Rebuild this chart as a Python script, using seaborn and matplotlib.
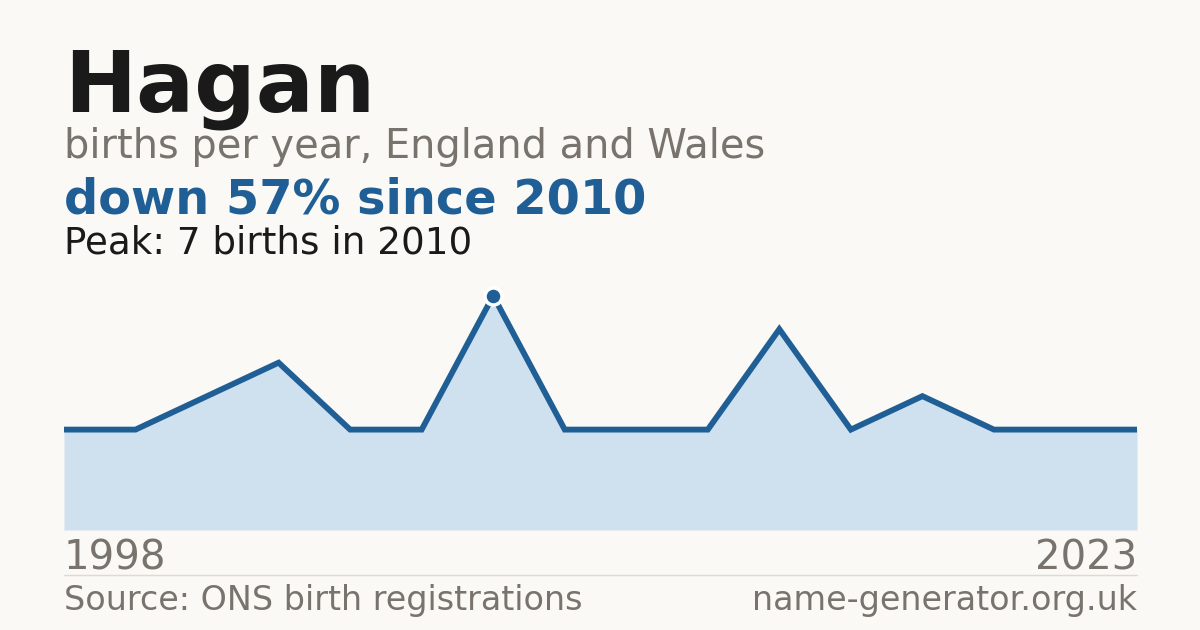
import matplotlib
matplotlib.use("Agg")
import matplotlib.pyplot as plt
import seaborn as sns
import pandas as pd
import numpy as np

years = [1998, 2000, 2002, 2004, 2006, 2008, 2010, 2011, 2013, 2014, 2016, 2017, 2018, 2020, 2022, 2023]
births = [3, 3, 4, 5, 3, 3, 7, 3, 3, 3, 6, 3, 4, 3, 3, 3]

title = "Hagan"
subtitle = "births per year, England and Wales"
headline = "down 57% since 2010"
peak_text = "Peak: 7 births in 2010"
source_text = "Source: ONS birth registrations"
site_text = "name-generator.org.uk"

BG = "#faf9f5"
BLUE = "#1f5f96"
FILL = "#cfe0ef"
GRAY = "#78736c"
DARK = "#1a1a1a"

sns.set_theme(style="white")
plt.rcParams['font.family'] = ['DejaVu Sans']

df = pd.DataFrame({"idx": np.arange(len(years)), "year": years, "births": births})

W, H = 1200, 630
fig = plt.figure(figsize=(12, 6.3), dpi=100, facecolor=BG)
left, right = 64, 1137
bottom, top = 530, 279
ax = fig.add_axes([left / W, 1 - bottom / H, (right - left) / W, (bottom - top) / H])
ax.set_facecolor(BG)

ax.fill_between(df["idx"], 0, df["births"], color=FILL, linewidth=0, zorder=1)
sns.lineplot(data=df, x="idx", y="births", ax=ax, color=BLUE, linewidth=4.2, zorder=2,
             solid_capstyle="butt", solid_joinstyle="miter")
pk = df.loc[[df["births"].idxmax()]]
sns.scatterplot(data=pk, x="idx", y="births", ax=ax, color=BLUE, s=150,
                edgecolor="white", linewidth=2.5, zorder=3, clip_on=False)

ax.set_xlim(0, len(years) - 1)
ax.set_ylim(0, 7.5)
ax.axis("off")

def ytxt(y):
    return 1 - y / H

fig.text(left / W, ytxt(112), title, fontsize=62, fontweight="bold", color=DARK, va="baseline", ha="left")
fig.text(left / W, ytxt(158), subtitle, fontsize=28.7, color=GRAY, va="baseline", ha="left")
fig.text(left / W, ytxt(213), headline, fontsize=34.5, fontweight="bold", color=BLUE, va="baseline", ha="left")
fig.text(left / W, ytxt(253), peak_text, fontsize=26.8, color=DARK, va="baseline", ha="left")

fig.text(left / W, ytxt(569), str(years[0]), fontsize=28.9, color=GRAY, va="baseline", ha="left")
fig.text(right / W, ytxt(569), str(years[-1]), fontsize=28.9, color=GRAY, va="baseline", ha="right")

fig.add_artist(plt.Line2D([left / W, right / W], [ytxt(574.5), ytxt(574.5)], color="#dddad3", linewidth=1))

fig.text(left / W, ytxt(610), source_text, fontsize=24, color=GRAY, va="baseline", ha="left")
fig.text(right / W, ytxt(610), site_text, fontsize=24, color=GRAY, va="baseline", ha="right")

fig.savefig("out.png", dpi=100, facecolor=BG)
